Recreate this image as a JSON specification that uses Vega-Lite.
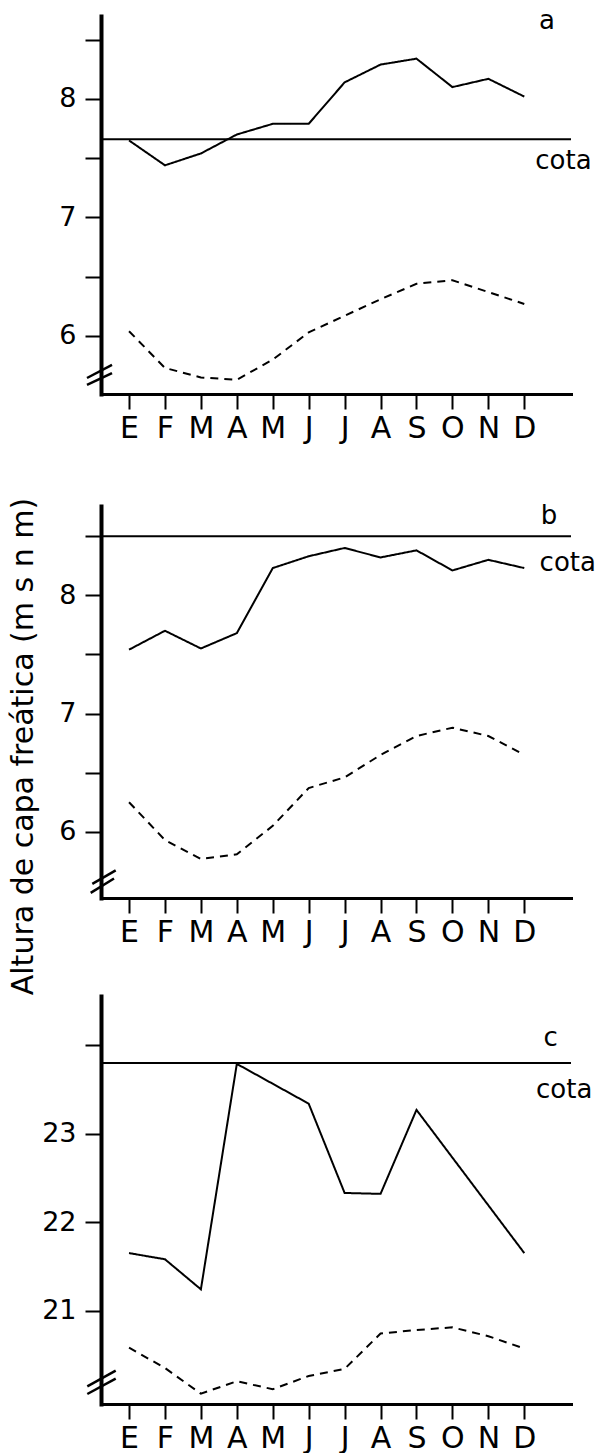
{
  "$schema": "https://vega.github.io/schema/vega-lite/v6.json",
  "padding": {"left": 7, "top": 8, "right": 0, "bottom": 0},
  "background": "white",
  "bounds": "flush",
  "spacing": 112,
  "config": {
    "view": {"stroke": null},
    "font": "DejaVu Sans",
    "axis": {"domainColor": "#000", "tickColor": "#000", "labelColor": "#000", "titleColor": "#000", "grid": false, "labelFont": "DejaVu Sans", "titleFont": "DejaVu Sans", "titleFontWeight": "normal", "domainCap": "square"},
    "axisX": {"domainWidth": 3, "tickWidth": 2, "tickSize": 15, "labelFontSize": 30, "labelPadding": 4, "labelFlush": false, "labelOverlap": false, "title": null},
    "axisY": {"domainWidth": 4, "tickWidth": 2, "tickSize": 16, "labelFontSize": 27, "labelPadding": 9, "labelOverlap": false, "title": null},
    "text": {"font": "DejaVu Sans", "fontSize": 26, "color": "#000", "baseline": "alphabetic", "align": "center"},
    "line": {"color": "#000", "strokeWidth": 2},
    "rule": {"color": "#000", "strokeWidth": 2}
  },
  "datasets": {
    "panel_a": [
      {"mes": 1, "nivel": 7.65, "curva": "continua"},
      {"mes": 2, "nivel": 7.44, "curva": "continua"},
      {"mes": 3, "nivel": 7.54, "curva": "continua"},
      {"mes": 4, "nivel": 7.70, "curva": "continua"},
      {"mes": 5, "nivel": 7.79, "curva": "continua"},
      {"mes": 6, "nivel": 7.79, "curva": "continua"},
      {"mes": 7, "nivel": 8.14, "curva": "continua"},
      {"mes": 8, "nivel": 8.29, "curva": "continua"},
      {"mes": 9, "nivel": 8.34, "curva": "continua"},
      {"mes": 10, "nivel": 8.10, "curva": "continua"},
      {"mes": 11, "nivel": 8.17, "curva": "continua"},
      {"mes": 12, "nivel": 8.02, "curva": "continua"},
      {"mes": 1, "nivel": 6.04, "curva": "discontinua"},
      {"mes": 2, "nivel": 5.73, "curva": "discontinua"},
      {"mes": 3, "nivel": 5.65, "curva": "discontinua"},
      {"mes": 4, "nivel": 5.63, "curva": "discontinua"},
      {"mes": 5, "nivel": 5.80, "curva": "discontinua"},
      {"mes": 6, "nivel": 6.03, "curva": "discontinua"},
      {"mes": 7, "nivel": 6.17, "curva": "discontinua"},
      {"mes": 8, "nivel": 6.31, "curva": "discontinua"},
      {"mes": 9, "nivel": 6.44, "curva": "discontinua"},
      {"mes": 10, "nivel": 6.47, "curva": "discontinua"},
      {"mes": 11, "nivel": 6.37, "curva": "discontinua"},
      {"mes": 12, "nivel": 6.27, "curva": "discontinua"}
    ],
    "panel_b": [
      {"mes": 1, "nivel": 7.54, "curva": "continua"},
      {"mes": 2, "nivel": 7.70, "curva": "continua"},
      {"mes": 3, "nivel": 7.55, "curva": "continua"},
      {"mes": 4, "nivel": 7.68, "curva": "continua"},
      {"mes": 5, "nivel": 8.23, "curva": "continua"},
      {"mes": 6, "nivel": 8.33, "curva": "continua"},
      {"mes": 7, "nivel": 8.40, "curva": "continua"},
      {"mes": 8, "nivel": 8.32, "curva": "continua"},
      {"mes": 9, "nivel": 8.38, "curva": "continua"},
      {"mes": 10, "nivel": 8.21, "curva": "continua"},
      {"mes": 11, "nivel": 8.30, "curva": "continua"},
      {"mes": 12, "nivel": 8.23, "curva": "continua"},
      {"mes": 1, "nivel": 6.25, "curva": "discontinua"},
      {"mes": 2, "nivel": 5.93, "curva": "discontinua"},
      {"mes": 3, "nivel": 5.77, "curva": "discontinua"},
      {"mes": 4, "nivel": 5.81, "curva": "discontinua"},
      {"mes": 5, "nivel": 6.05, "curva": "discontinua"},
      {"mes": 6, "nivel": 6.37, "curva": "discontinua"},
      {"mes": 7, "nivel": 6.46, "curva": "discontinua"},
      {"mes": 8, "nivel": 6.65, "curva": "discontinua"},
      {"mes": 9, "nivel": 6.81, "curva": "discontinua"},
      {"mes": 10, "nivel": 6.88, "curva": "discontinua"},
      {"mes": 11, "nivel": 6.81, "curva": "discontinua"},
      {"mes": 12, "nivel": 6.65, "curva": "discontinua"}
    ],
    "panel_c": [
      {"mes": 1, "nivel": 21.65, "curva": "continua"},
      {"mes": 2, "nivel": 21.58, "curva": "continua"},
      {"mes": 3, "nivel": 21.24, "curva": "continua"},
      {"mes": 4, "nivel": 23.79, "curva": "continua"},
      {"mes": 6, "nivel": 23.34, "curva": "continua"},
      {"mes": 7, "nivel": 22.33, "curva": "continua"},
      {"mes": 8, "nivel": 22.32, "curva": "continua"},
      {"mes": 9, "nivel": 23.27, "curva": "continua"},
      {"mes": 12, "nivel": 21.65, "curva": "continua"},
      {"mes": 1, "nivel": 20.58, "curva": "discontinua"},
      {"mes": 2, "nivel": 20.35, "curva": "discontinua"},
      {"mes": 3, "nivel": 20.06, "curva": "discontinua"},
      {"mes": 4, "nivel": 20.20, "curva": "discontinua"},
      {"mes": 5, "nivel": 20.11, "curva": "discontinua"},
      {"mes": 6, "nivel": 20.26, "curva": "discontinua"},
      {"mes": 7, "nivel": 20.34, "curva": "discontinua"},
      {"mes": 8, "nivel": 20.74, "curva": "discontinua"},
      {"mes": 9, "nivel": 20.78, "curva": "discontinua"},
      {"mes": 10, "nivel": 20.81, "curva": "discontinua"},
      {"mes": 11, "nivel": 20.71, "curva": "discontinua"},
      {"mes": 12, "nivel": 20.57, "curva": "discontinua"}
    ]
  },
  "vconcat": [
    {
      "width": 470,
      "height": 378,
      "layer": [
        {
          "data": {"name": "panel_a"},
          "mark": {"type": "line"},
          "encoding": {
            "x": {"field": "mes", "type": "quantitative", "scale": {"domain": [0.22, 13.3], "nice": false, "zero": false}, "axis": {"values": [1,2,3,4,5,6,7,8,9,10,11,12], "labelExpr": "['E','F','M','A','M','J','J','A','S','O','N','D'][datum.value - 1]"}},
            "y": {"field": "nivel", "type": "quantitative", "scale": {"domain": [5.51, 8.70], "nice": false, "zero": false}, "axis": {"values": [6, 6.5, 7, 7.5, 8, 8.5], "labelExpr": "datum.value % 1 === 0 ? format(datum.value, 'd') : ''"}},
            "strokeDash": {"field": "curva", "type": "nominal", "scale": {"domain": ["continua", "discontinua"], "range": [[1, 0], [8, 6]]}, "legend": null}
          }
        },
        {
          "data": {"values": [{}]},
          "mark": {"type": "rule"},
          "encoding": {"y": {"datum": 7.66, "type": "quantitative", "scale": {"domain": [5.51, 8.70], "nice": false, "zero": false}}}
        },
        {
          "data": {"values": [{}]},
          "mark": {"type": "rule", "strokeWidth": 2.5},
          "encoding": {
            "x": {"datum": -0.17, "type": "quantitative", "scale": {"domain": [0.22, 13.3], "nice": false, "zero": false}},
            "x2": {"datum": 0.526},
            "y": {"datum": 5.645, "type": "quantitative", "scale": {"domain": [5.51, 8.70], "nice": false, "zero": false}},
            "y2": {"datum": 5.755}
          }
        },
        {
          "data": {"values": [{}]},
          "mark": {"type": "rule", "strokeWidth": 2.5},
          "encoding": {
            "x": {"datum": -0.17, "type": "quantitative", "scale": {"domain": [0.22, 13.3], "nice": false, "zero": false}},
            "x2": {"datum": 0.526},
            "y": {"datum": 5.586, "type": "quantitative", "scale": {"domain": [5.51, 8.70], "nice": false, "zero": false}},
            "y2": {"datum": 5.687}
          }
        },
        {
          "data": {"values": [{}]},
          "mark": {"type": "text", "text": "a"},
          "encoding": {
            "x": {"datum": 12.63, "type": "quantitative", "scale": {"domain": [0.22, 13.3], "nice": false, "zero": false}},
            "y": {"datum": 8.59, "type": "quantitative", "scale": {"domain": [5.51, 8.70], "nice": false, "zero": false}}
          }
        },
        {
          "data": {"values": [{}]},
          "mark": {"type": "text", "text": "cota"},
          "encoding": {
            "x": {"datum": 13.09, "type": "quantitative", "scale": {"domain": [0.22, 13.3], "nice": false, "zero": false}},
            "y": {"datum": 7.41, "type": "quantitative", "scale": {"domain": [5.51, 8.70], "nice": false, "zero": false}}
          }
        }
      ]
    },
    {
      "bounds": "flush",
      "spacing": 98,
      "vconcat": [
        {
          "width": 470,
          "height": 392,
          "layer": [
            {
              "data": {"name": "panel_b"},
              "mark": {"type": "line"},
              "encoding": {
                "x": {"field": "mes", "type": "quantitative", "scale": {"domain": [0.22, 13.3], "nice": false, "zero": false}, "axis": {"values": [1,2,3,4,5,6,7,8,9,10,11,12], "labelExpr": "['E','F','M','A','M','J','J','A','S','O','N','D'][datum.value - 1]"}},
                "y": {"field": "nivel", "type": "quantitative", "scale": {"domain": [5.44, 8.755], "nice": false, "zero": false}, "axis": {"values": [6, 6.5, 7, 7.5, 8, 8.5], "labelExpr": "datum.value % 1 === 0 ? format(datum.value, 'd') : ''", "title": "Altura de capa freática (m s n m)", "titleFontSize": 30, "titleX": -78, "titleY": 240, "titleAngle": -90, "titleBaseline": "middle", "titleAlign": "center"}},
                "strokeDash": {"field": "curva", "type": "nominal", "scale": {"domain": ["continua", "discontinua"], "range": [[1, 0], [8, 6]]}, "legend": null}
              }
            },
            {
              "data": {"values": [{}]},
              "mark": {"type": "rule"},
              "encoding": {"y": {"datum": 8.50, "type": "quantitative", "scale": {"domain": [5.44, 8.755], "nice": false, "zero": false}}}
            },
            {
              "data": {"values": [{}]},
              "mark": {"type": "rule", "strokeWidth": 2.5},
              "encoding": {
                "x": {"datum": -0.022, "type": "quantitative", "scale": {"domain": [0.22, 13.3], "nice": false, "zero": false}},
                "x2": {"datum": 0.629},
                "y": {"datum": 5.560, "type": "quantitative", "scale": {"domain": [5.44, 8.755], "nice": false, "zero": false}},
                "y2": {"datum": 5.673}
              }
            },
            {
              "data": {"values": [{}]},
              "mark": {"type": "rule", "strokeWidth": 2.5},
              "encoding": {
                "x": {"datum": -0.067, "type": "quantitative", "scale": {"domain": [0.22, 13.3], "nice": false, "zero": false}},
                "x2": {"datum": 0.582},
                "y": {"datum": 5.483, "type": "quantitative", "scale": {"domain": [5.44, 8.755], "nice": false, "zero": false}},
                "y2": {"datum": 5.605}
              }
            },
            {
              "data": {"values": [{}]},
              "mark": {"type": "text", "text": "b"},
              "encoding": {
                "x": {"datum": 12.69, "type": "quantitative", "scale": {"domain": [0.22, 13.3], "nice": false, "zero": false}},
                "y": {"datum": 8.60, "type": "quantitative", "scale": {"domain": [5.44, 8.755], "nice": false, "zero": false}}
              }
            },
            {
              "data": {"values": [{}]},
              "mark": {"type": "text", "text": "cota"},
              "encoding": {
                "x": {"datum": 13.21, "type": "quantitative", "scale": {"domain": [0.22, 13.3], "nice": false, "zero": false}},
                "y": {"datum": 8.205, "type": "quantitative", "scale": {"domain": [5.44, 8.755], "nice": false, "zero": false}}
              }
            }
          ]
        },
        {
          "width": 470,
          "height": 408,
          "layer": [
            {
              "data": {"name": "panel_c"},
              "mark": {"type": "line"},
              "encoding": {
                "x": {"field": "mes", "type": "quantitative", "scale": {"domain": [0.22, 13.3], "nice": false, "zero": false}, "axis": {"values": [1,2,3,4,5,6,7,8,9,10,11,12], "labelExpr": "['E','F','M','A','M','J','J','A','S','O','N','D'][datum.value - 1]"}},
                "y": {"field": "nivel", "type": "quantitative", "scale": {"domain": [19.943, 24.558], "nice": false, "zero": false}, "axis": {"values": [21, 22, 23, 24], "labelExpr": "datum.value < 24 ? format(datum.value, 'd') : ''"}},
                "strokeDash": {"field": "curva", "type": "nominal", "scale": {"domain": ["continua", "discontinua"], "range": [[1, 0], [8, 6]]}, "legend": null}
              }
            },
            {
              "data": {"values": [{}]},
              "mark": {"type": "rule"},
              "encoding": {"y": {"datum": 23.80, "type": "quantitative", "scale": {"domain": [19.943, 24.558], "nice": false, "zero": false}}}
            },
            {
              "data": {"values": [{}]},
              "mark": {"type": "rule", "strokeWidth": 2.5},
              "encoding": {
                "x": {"datum": -0.161, "type": "quantitative", "scale": {"domain": [0.22, 13.3], "nice": false, "zero": false}},
                "x2": {"datum": 0.629},
                "y": {"datum": 20.143, "type": "quantitative", "scale": {"domain": [19.943, 24.558], "nice": false, "zero": false}},
                "y2": {"datum": 20.320}
              }
            },
            {
              "data": {"values": [{}]},
              "mark": {"type": "rule", "strokeWidth": 2.5},
              "encoding": {
                "x": {"datum": -0.161, "type": "quantitative", "scale": {"domain": [0.22, 13.3], "nice": false, "zero": false}},
                "x2": {"datum": 0.629},
                "y": {"datum": 20.056, "type": "quantitative", "scale": {"domain": [19.943, 24.558], "nice": false, "zero": false}},
                "y2": {"datum": 20.230}
              }
            },
            {
              "data": {"values": [{}]},
              "mark": {"type": "text", "text": "c"},
              "encoding": {
                "x": {"datum": 12.73, "type": "quantitative", "scale": {"domain": [0.22, 13.3], "nice": false, "zero": false}},
                "y": {"datum": 23.992, "type": "quantitative", "scale": {"domain": [19.943, 24.558], "nice": false, "zero": false}}
              }
            },
            {
              "data": {"values": [{}]},
              "mark": {"type": "text", "text": "cota"},
              "encoding": {
                "x": {"datum": 13.11, "type": "quantitative", "scale": {"domain": [0.22, 13.3], "nice": false, "zero": false}},
                "y": {"datum": 23.407, "type": "quantitative", "scale": {"domain": [19.943, 24.558], "nice": false, "zero": false}}
              }
            }
          ]
        }
      ]
    }
  ]
}
